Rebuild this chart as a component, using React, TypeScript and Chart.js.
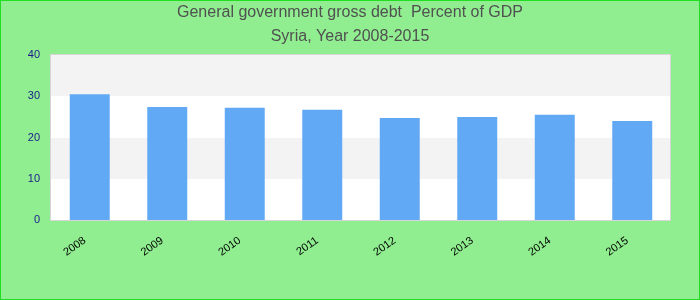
import React, { useEffect, useRef } from "react";
import { Chart, registerables } from "chart.js";

Chart.register(...registerables);

const categories = ["2008", "2009", "2010", "2011", "2012", "2013", "2014", "2015"];
const debtValues = [30.5, 27.4, 27.2, 26.7, 24.7, 25.0, 25.5, 24.0];
const yTicks = [0, 10, 20, 30, 40];
const titleLines = ["General government gross debt  Percent of GDP", "Syria, Year 2008-2015"];

const bgPlugin = {
  id: "bgPlugin",
  beforeDraw(chart: any) {
    const { ctx, width, height, chartArea, scales } = chart;
    ctx.save();
    ctx.fillStyle = "#90EE90";
    ctx.fillRect(0, 0, width, height);
    ctx.strokeStyle = "#22dd22";
    ctx.lineWidth = 1;
    ctx.strokeRect(0.5, 0.5, width - 1, height - 1);
    // bands
    const y = scales.y;
    const left = Math.round(chartArea.left) - 1;
    const right = Math.round(chartArea.right) - 1;
    for (let i = 0; i < yTicks.length - 1; i++) {
      const top = Math.round(y.getPixelForValue(yTicks[i + 1]));
      const bot = Math.round(y.getPixelForValue(yTicks[i]));
      ctx.fillStyle = i % 2 === 0 ? "#ffffff" : "#f3f3f3";
      ctx.fillRect(left, top, right - left, bot - top);
    }
    const top = Math.round(chartArea.top) - 1;
    const bottom = Math.round(chartArea.bottom);
    ctx.strokeStyle = "#d6d6d6";
    ctx.strokeRect(left + 0.5, top + 0.5, right - left, bottom - top);
    // title
    ctx.fillStyle = "#505050";
    ctx.font = "16px 'Liberation Sans', Arial, sans-serif";
    ctx.textAlign = "center";
    ctx.textBaseline = "middle";
    ctx.fillText(titleLines[0], width / 2, 13);
    ctx.fillText(titleLines[1], width / 2, 37);
    ctx.restore();
  },
};

export default function App() {
  const ref = useRef<HTMLCanvasElement>(null);
  useEffect(() => {
    document.body.style.margin = "0";
    const chart = new Chart(ref.current!, {
      type: "bar",
      data: {
        labels: categories,
        datasets: [
          {
            data: debtValues,
            backgroundColor: "#62a9f5",
            barPercentage: 0.516,
            categoryPercentage: 1,
          },
        ],
      },
      plugins: [bgPlugin],
      options: {
        animation: false,
        responsive: false,
        layout: { padding: { top: 55, right: 29, left: 0, bottom: 0 } },
        plugins: { legend: { display: false }, tooltip: { enabled: false }, title: { display: false } },
        scales: {
          x: {
            grid: { display: false, drawTicks: false },
            border: { display: false },
            ticks: {
              minRotation: 35,
              maxRotation: 35,
              padding: 14,
              labelOffset: -5,
              color: "#000000",
              font: { family: "'Liberation Sans', Arial, sans-serif", size: 11 },
            },
            afterFit(scale: any) {
              scale.height = 80;
            },
          },
          y: {
            min: 0,
            max: 40,
            grid: { display: false, drawTicks: false },
            border: { display: false },
            afterBuildTicks(scale: any) {
              scale.ticks = yTicks.map((v) => ({ value: v }));
            },
            ticks: {
              padding: 11,
              color: "#1a1a8c",
              font: { family: "'Liberation Sans', Arial, sans-serif", size: 11 },
            },
            afterFit(scale: any) {
              scale.width = 51;
            },
          },
        },
      },
    });
    return () => chart.destroy();
  }, []);
  return <canvas ref={ref} width={700} height={300} style={{ display: "block" }} />;
}
